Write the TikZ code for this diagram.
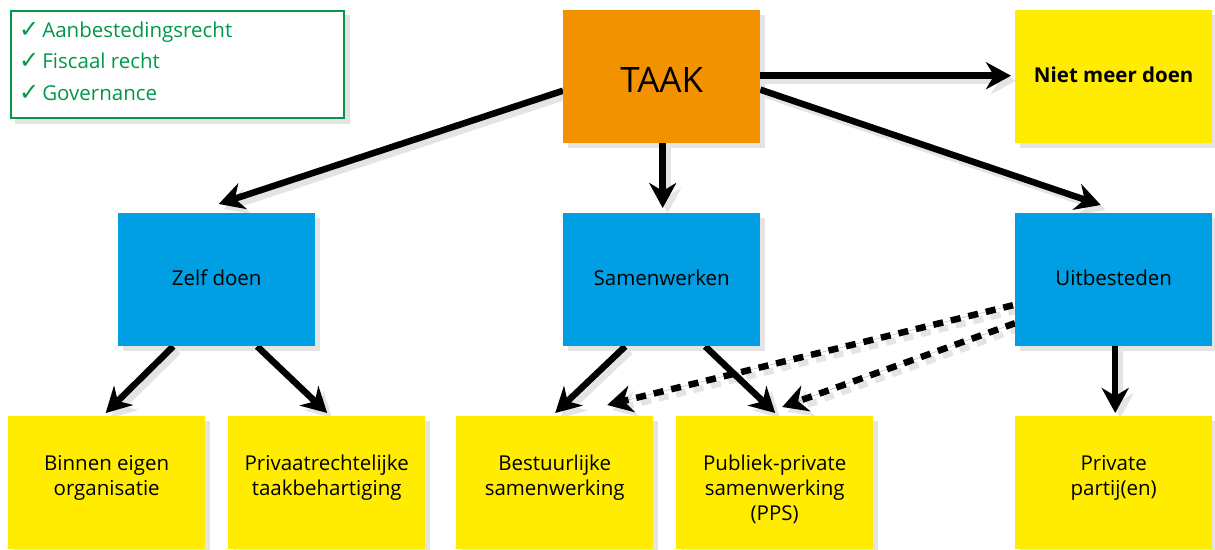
\documentclass[tikz,border=0pt]{standalone}
\usepackage{fontspec}
\setmainfont{Open Sans}
\newfontfamily\symfont{DejaVu Sans}
\usetikzlibrary{arrows.meta,calc}
\definecolor{taakor}{HTML}{F39200}
\definecolor{boxyel}{HTML}{FFEC00}
\definecolor{boxblue}{HTML}{009FE3}
\definecolor{grn}{HTML}{00984A}
\definecolor{shc}{HTML}{E4E4E4}
\pgfdeclarelayer{bg}
\pgfdeclarelayer{mid}
\pgfsetlayers{bg,mid,main}
\newcommand{\chk}{{\symfont\fontsize{24}{24}\selectfont\char"2713}\hspace{3pt}}
% #1 style, #2 #3 offset
\newcommand{\allarrows}[3]{%
\draw[arr,#1] ([shift={(#2,#3)},shift={(0,-1)}]taak.east) -- ([shift={(#2,#3)},shift={(-4,-1)}]niet.west);
\draw[arr,#1] ([shift={(#2,#3)},shift={(0,14)}]taak.west) -- ([shift={(#2,#3)},shift={(2,-9)}]zelf.north);
\draw[arr,#1] ([shift={(#2,#3)},shift={(1,0)}]taak.south) -- ([shift={(#2,#3)},shift={(1,-5)}]samen.north);
\draw[arr,#1] ([shift={(#2,#3)},shift={(0,13)}]taak.east) -- ([shift={(#2,#3)},shift={(-13,-8)}]uit.north);
\draw[arr,#1] ([shift={(#2,#3)},shift={(-43.5,0)}]zelf.south) -- ([shift={(#2,#3)},shift={(-1,-3)}]binnen.north);
\draw[arr,#1] ([shift={(#2,#3)},shift={(40.5,0)}]zelf.south) -- ([shift={(#2,#3)},shift={(0.5,-3)}]priv.north);
\draw[arr,#1] ([shift={(#2,#3)},shift={(-36.5,0)}]samen.south) -- ([shift={(#2,#3)},shift={(0.5,-3)}]best.north);
\draw[arr,#1] ([shift={(#2,#3)},shift={(43.5,0)}]samen.south) -- ([shift={(#2,#3)},shift={(0.5,-3)}]pps.north);
\draw[darr,#1] ([shift={(#2,#3)},shift={(-2,25.5)}]uit.west) -- ([shift={(#2,#3)},shift={(52.5,-11)}]best.north);
\draw[darr,#1] ([shift={(#2,#3)},shift={(0,43.5)}]uit.west) -- ([shift={(#2,#3)},shift={(7.5,-9)}]pps.north);
\draw[arr,#1] ([shift={(#2,#3)},shift={(1.5,0)}]uit.south) -- ([shift={(#2,#3)},shift={(1.5,-3)}]partij.north);
}
\begin{document}
\begin{tikzpicture}[x=1pt,y=-1pt,
  box/.style={rectangle, inner sep=0pt, minimum width=197pt, minimum height=133pt, anchor=north west},
  ybox/.style={box, fill=boxyel},
  bbox/.style={box, fill=boxblue},
  obox/.style={box, fill=taakor},
  lab/.style={font=\fontsize{20.5}{25}\selectfont, align=center, inner sep=0pt},
  blab/.style={lab, anchor=base},
  tlab/.style={lab, anchor=north},
  glab/.style={font=\fontsize{20.5}{25}\selectfont, text=grn, anchor=base west, inner sep=0pt},
  arr/.style={line width=6.5pt, -{Stealth[length=25pt,width=27pt,inset=8pt]}},
  darr/.style={arr, dash pattern=on 10pt off 8pt},
  shadowarr/.style={draw=shc, fill=shc},
  mainarr/.style={draw=black, fill=black},
]
\useasboundingbox (0,0) rectangle (1215,549);

% legend box
\node[draw=grn, line width=2pt, inner sep=0pt, minimum width=333pt, minimum height=107pt, anchor=north west] (legend) at (10,10) {};
\node[glab] (l1) at (19,37) {\chk Aanbestedingsrecht};
\node[glab] (l2) at (19,68) {\chk Fiscaal recht};
\node[glab] (l3) at (19,100) {\chk Governance};

% boxes
\node[obox] (taak) at (563,10) {};
\node[ybox] (niet) at (1015,10) {};
\node[bbox] (zelf) at (118,213) {};
\node[bbox] (samen) at (563,213) {};
\node[bbox] (uit) at (1015,213) {};
\node[ybox] (binnen) at (8,416) {};
\node[ybox] (priv) at (228,416) {};
\node[ybox] (best) at (456,416) {};
\node[ybox] (pps) at (676,416) {};
\node[ybox] (partij) at (1015,416) {};

% box and arrow shadows
\begin{pgfonlayer}{bg}
\foreach \n in {legend,taak,niet,zelf,samen,uit,binnen,priv,best,pps,partij}{
  \fill[shc] ([shift={(5,5)}]\n.north west) rectangle ([shift={(5,5)}]\n.south east);
}
\fill[white] ([shift={(1,1)}]legend.north west) rectangle ([shift={(-1,-1)}]legend.south east);
\allarrows{shadowarr}{5}{5}
\end{pgfonlayer}

% labels
\node[lab, anchor=base, font=\fontsize{35}{40}\selectfont] (taakt) at ([shift={(0,16)}]taak.center) {TAAK};
\node[blab, font=\fontsize{20.5}{25}\selectfont\bfseries] (nietl) at ([shift={(0,6)}]niet.center) {Niet meer doen};
\node[blab] (zelft) at ([shift={(0,6)}]zelf.center) {Zelf doen};
\node[blab] (savent) at ([shift={(0,6)}]samen.center) {Samenwerken};
\node[blab] (uitt) at ([shift={(0,6)}]uit.center) {Uitbesteden};
\node[tlab] (binnent) at ([shift={(0,36.5)}]binnen.north) {\strut Binnen eigen\\organisatie};
\node[tlab] (privt) at ([shift={(0,36.5)}]priv.north) {\strut Privaatrechtelijke\\taakbehartiging};
\node[tlab] (bestt) at ([shift={(0,36.5)}]best.north) {\strut Bestuurlijke\\samenwerking};
\node[tlab] (ppst) at ([shift={(0,36.5)}]pps.north) {\strut Publiek-private\\samenwerking\\(PPS)};
\node[tlab] (partijt) at ([shift={(0,36.5)}]partij.north) {\strut Private\\partij(en)};

% arrows
\begin{pgfonlayer}{mid}
\allarrows{mainarr}{0}{0}
\end{pgfonlayer}
\end{tikzpicture}
\end{document}
